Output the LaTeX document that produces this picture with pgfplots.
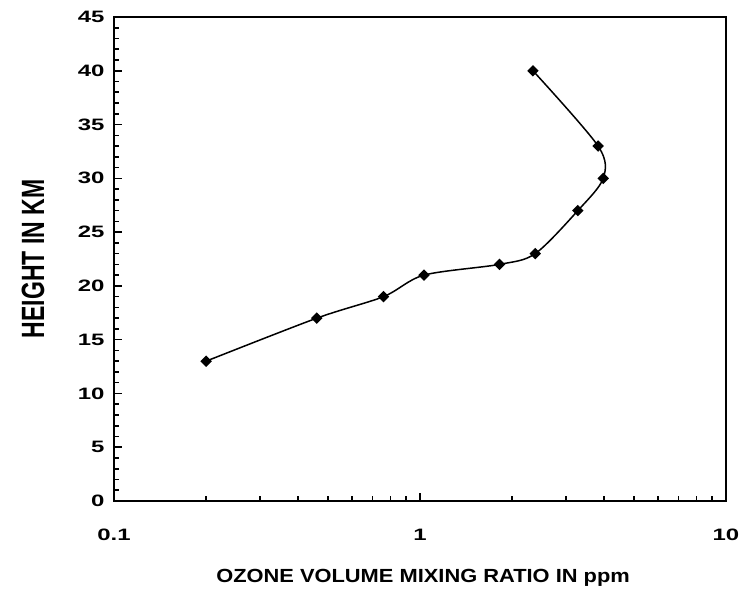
\documentclass[border=0pt]{standalone}
\usepackage{fontspec}
\setmainfont{Liberation Sans}
\newfontfamily\tickfont[FakeStretch=1.45]{Liberation Sans}
\newfontfamily\xlabfont[FakeStretch=1.15]{Liberation Sans}
\usepackage{graphicx}
\usepackage{pgfplots}
\pgfplotsset{compat=1.18}

\begin{document}
\begin{tikzpicture}
\useasboundingbox (-114pt,-90pt) rectangle (628pt,501pt);
\begin{axis}[
    at={(0,0)}, anchor=south west,
    scale only axis, width=612pt, height=484pt,
    xmode=log, xmin=0.1, xmax=10,
    ymin=0, ymax=45,
    xtick={0.1,1,10}, xticklabels={0.1,1,10},
    minor xtick={0.2,0.3,0.4,0.5,0.6,0.7,0.8,0.9,2,3,4,5,6,7,8,9},
    ytick={0,5,...,45},
    minor ytick={1,...,44},
    tick pos=left, tick align=inside,
    axis line style={line width=2pt},
    major tick length=8pt, minor tick length=5pt,
    tick style={black, line width=1.6pt},
    /pgf/number format/assume math mode=true,
    ticklabel style={font=\tickfont\bfseries\fontsize{16.5}{18}\selectfont},
    yticklabel style={xshift=-6pt},
    xticklabel style={anchor=center, yshift=-33.5pt},
    xlabel={OZONE VOLUME MIXING RATIO IN ppm},
    xlabel style={at={(axis description cs:0.505,-0.1694)}, anchor=base,
        font=\xlabfont\bfseries\fontsize{19}{22}\selectfont},
    ylabel={\scalebox{1}[1.4]{HEIGHT IN KM}},
    ylabel style={at={(axis description cs:-0.1324,0.5)}, anchor=center,
        font=\bfseries\fontsize{23}{26}\selectfont},
]
\addplot[black, line width=1.5pt, smooth, mark=square*, mark size=3.3pt,
    mark options={rotate=45, solid}] coordinates {
    (0.2,13) (0.46,17) (0.76,19) (1.03,21) (1.82,22) (2.38,23)
    (3.28,27) (3.97,30) (3.82,33) (2.34,40)
};
\end{axis}
\end{tikzpicture}
\end{document}
